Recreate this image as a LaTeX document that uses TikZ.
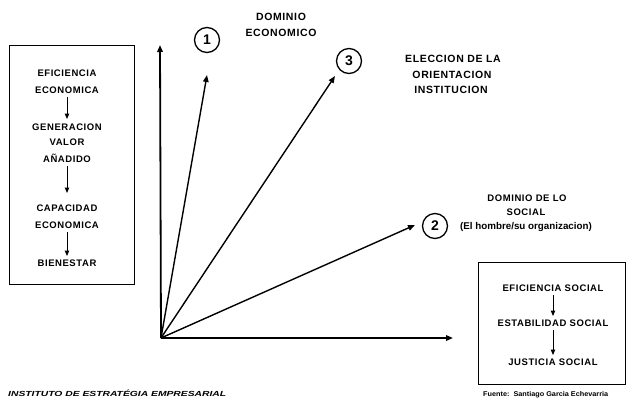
\documentclass[tikz,border=0pt]{standalone}
\usepackage{fontspec}
\setmainfont{Liberation Sans}
\newfontfamily\widefont[LetterSpace=6]{Liberation Sans}
\usepackage{graphicx}
\usetikzlibrary{arrows.meta}
\begin{document}
\begin{tikzpicture}[x=1pt,y=-1pt,
  lbl/.style={font=\widefont\bfseries\fontsize{9.5}{11}\selectfont, inner sep=0pt, align=center},
  toplbl/.style={font=\widefont\bfseries\fontsize{10.5}{12}\selectfont, inner sep=0pt, align=center},
  small/.style={font=\bfseries\fontsize{9.8}{11}\selectfont, inner sep=0pt},
  boxframe/.style={draw, line width=1pt},
  axis/.style={line width=1.8pt, -{Triangle[length=7pt,width=5.5pt]}},
  ray/.style={line width=1.4pt, -{Triangle[length=7pt,width=5.5pt]}},
  flow/.style={line width=1pt, -{Triangle[length=5.5pt,width=4.5pt]}},
  num/.style={draw, circle, line width=1.3pt, minimum size=25pt, inner sep=0pt, font=\bfseries\fontsize{14}{16}\selectfont}
]
\useasboundingbox (0,0) rectangle (628,402);
\fill[white] (0,0) rectangle (628,402);

% left box
\draw[boxframe] (9,45) rectangle (134,284);
\node[lbl] (e1) at (67,73) {EFICIENCIA};
\node[lbl] (e2) at (67,90) {ECONOMICA};
\node[lbl] (g1) at (67,127) {GENERACION};
\node[lbl] (g2) at (67,142) {VALOR};
\node[lbl] (g3) at (67,158) {AÑADIDO};
\node[lbl] (c1) at (67,208) {CAPACIDAD};
\node[lbl] (c2) at (67,225) {ECONOMICA};
\node[lbl] (b1) at (67,263) {BIENESTAR};
\coordinate (a1s) at (67,97);  \coordinate (a1e) at (67,119);
\coordinate (a2s) at (67,166); \coordinate (a2e) at (67,193);
\coordinate (a3s) at (67,232); \coordinate (a3e) at (67,256);
\draw[flow] (a1s) -- (a1e);
\draw[flow] (a2s) -- (a2e);
\draw[flow] (a3s) -- (a3e);

% axes
\coordinate (O) at (161,338);
\coordinate (Ytip) at (160,45);
\coordinate (Xtip) at (453,338);
\coordinate (R1) at (207,75);
\coordinate (R3) at (335,76);
\coordinate (R2) at (415,225);
\draw[axis] (O) -- (Ytip);
\draw[axis] (O) -- (Xtip);
\draw[ray] (O) -- (R1);
\draw[ray] (O) -- (R3);
\draw[ray] (O) -- (R2);

% circles
\node[num] (n1) at (207,40) {1};
\node[num] (n3) at (349,61) {3};
\node[num] (n2) at (435,226) {2};

% labels
\node[toplbl] (d1) at (281,17) {DOMINIO};
\node[toplbl] (d2) at (281,33) {ECONOMICO};
\node[toplbl] (el1) at (453,59) {ELECCION DE LA};
\node[toplbl] (el2) at (452,75) {ORIENTACION};
\node[toplbl] (el3) at (451,90) {INSTITUCION};
\node[lbl] (s1) at (527,198) {DOMINIO DE LO};
\node[lbl] (s2) at (526,212) {SOCIAL};
\node[small] (s3) at (526,227) {(El hombre/su organizacion)};

% right box
\draw[boxframe] (478,262) rectangle (625,384);
\node[lbl] (r1) at (553,288) {EFICIENCIA SOCIAL};
\node[lbl] (r2) at (553,323) {ESTABILIDAD SOCIAL};
\node[lbl] (r3) at (553,362) {JUSTICIA SOCIAL};
\coordinate (b1s) at (553,295); \coordinate (b1e) at (553,316);
\coordinate (b2s) at (553,330); \coordinate (b2e) at (553,355);
\draw[flow] (b1s) -- (b1e);
\draw[flow] (b2s) -- (b2e);

% footers
\node[inner sep=0pt, anchor=west] (f1) at (8,393) {\resizebox{218pt}{6.5pt}{\bfseries\itshape INSTITUTO DE ESTRATÉGIA EMPRESARIAL}};
\node[inner sep=0pt, anchor=west] (f2) at (483,395) {\resizebox{125pt}{5pt}{\bfseries Fuente:\ \ Santiago Garcia Echevarria}};
\end{tikzpicture}
\end{document}
